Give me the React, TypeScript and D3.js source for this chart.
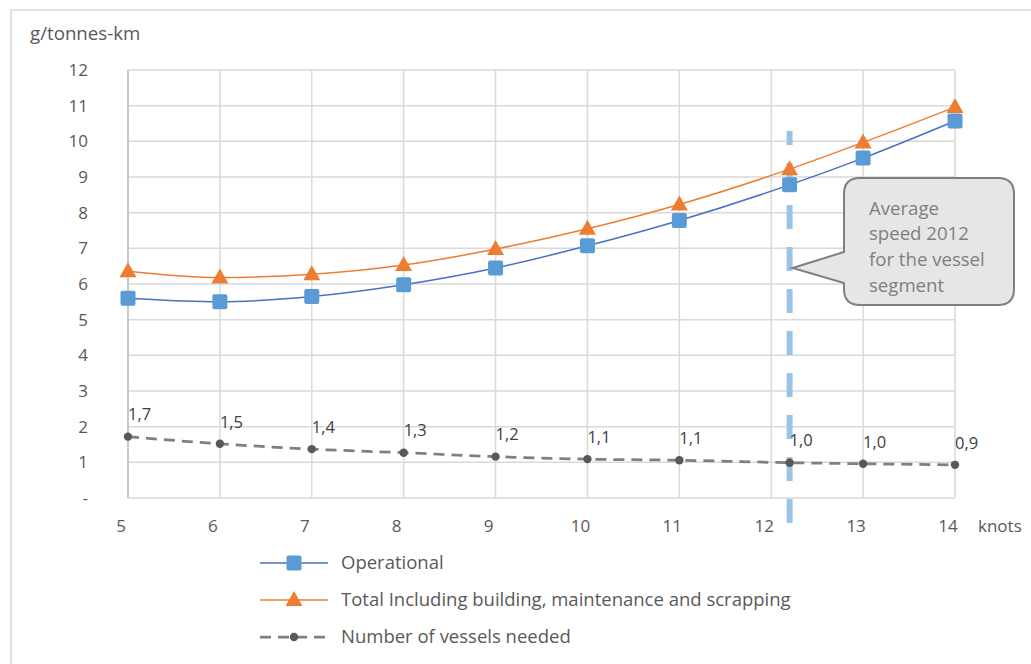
import React from "react";
import * as d3 from "d3";

// Speeds in knots; the 2012 average speed (12.2) is one of the sampled points
const speeds = [5, 6, 7, 8, 9, 10, 11, 12.2, 13, 14];
const operational = [5.6, 5.5, 5.65, 5.98, 6.45, 7.07, 7.78, 8.78, 9.53, 10.57];
const totalIncl = [6.36, 6.18, 6.27, 6.53, 6.98, 7.55, 8.23, 9.22, 9.97, 10.96];
const vesselsNeeded = [1.72, 1.52, 1.37, 1.27, 1.16, 1.09, 1.06, 0.99, 0.96, 0.93];

const xTicks = [5, 6, 7, 8, 9, 10, 11, 12, 13, 14];
const yTicks = [0, 1, 2, 3, 4, 5, 6, 7, 8, 9, 10, 11, 12];
const avgSpeed2012 = 12.2;
const calloutLines = ["Average", "speed 2012", "for the vessel", "segment"];

const legendItems = [
  { key: "op", label: "Operational" },
  { key: "tot", label: "Total Including building, maintenance and scrapping" },
  { key: "ves", label: "Number of vessels needed" },
];

const FONT = "'Open Sans', sans-serif";
const BLUE_LINE = "#4472c4";
const BLUE_MARK = "#5b9bd5";
const ORANGE = "#ed7d31";
const GREY_LINE = "#7f7f7f";
const GREY_DOT = "#595959";
const GRID = "#d9d9d9";
const TEXT = "#595959";
const VESSEL_DASH = "11,7";

export default function App() {
  const width = 1031;
  const height = 664;
  const x = d3.scaleLinear().domain([5, 14]).range([128, 955]);
  const y = d3.scaleLinear().domain([0, 12]).range([498, 70]);

  const lineOf = (vals: number[]) =>
    d3
      .line<number>()
      .x((_, i) => x(speeds[i]))
      .y((v) => y(v))
      .curve(d3.curveMonotoneX)(vals) as string;

  const fmt = (v: number) => d3.format(".1f")(v).replace(".", ",");

  const square = (cx: number, cy: number, k: string) => (
    <rect key={k} x={cx - 7.5} y={cy - 7.5} width={15} height={15} rx={2} fill={BLUE_MARK} />
  );
  const triangle = (cx: number, cy: number, k: string) => (
    <path
      key={k}
      d={`M${cx},${cy - 9} L${cx + 8.5},${cy + 6} L${cx - 8.5},${cy + 6} Z`}
      fill={ORANGE}
    />
  );

  // callout box with a pointer towards the average-speed line
  const bx0 = 844, bx1 = 1014, by0 = 178, by1 = 305, r = 16;
  const tipX = x(avgSpeed2012) + 3;
  const tipY = y(6.45);
  const calloutPath = [
    `M${bx0 + r},${by0}`,
    `L${bx1 - r},${by0}`,
    `Q${bx1},${by0} ${bx1},${by0 + r}`,
    `L${bx1},${by1 - r}`,
    `Q${bx1},${by1} ${bx1 - r},${by1}`,
    `L${bx0 + r},${by1}`,
    `Q${bx0},${by1} ${bx0},${by1 - r}`,
    `L${bx0},${tipY + 15}`,
    `L${tipX},${tipY}`,
    `L${bx0},${tipY - 16}`,
    `L${bx0},${by0 + r}`,
    `Q${bx0},${by0} ${bx0 + r},${by0}`,
    "Z",
  ].join(" ");

  return (
    <svg
      width={width}
      height={height}
      style={{ position: "absolute", left: 0, top: 0, background: "#fff" }}
      fontFamily={FONT}
    >
      <rect x={11} y={10} width={1040} height={670} fill="#fff" stroke={GRID} strokeWidth={1.5} />

      {/* grid */}
      {yTicks.map((t) => (
        <line key={"gy" + t} x1={x(5)} x2={x(14)} y1={y(t)} y2={y(t)} stroke={GRID} strokeWidth={1.5} />
      ))}
      {xTicks.map((t) => (
        <line key={"gx" + t} x1={x(t)} x2={x(t)} y1={y(0)} y2={y(12)} stroke={GRID} strokeWidth={1.5} />
      ))}
      <line x1={x(5)} x2={x(5)} y1={y(0)} y2={y(12)} stroke="#bfbfbf" strokeWidth={1.5} />

      {/* axis labels */}
      {yTicks.map((t) => (
        <text key={"ly" + t} x={88} y={y(t)} dy="0.35em" textAnchor="end" fontSize={17} fill={TEXT}>
          {t === 0 ? "-" : t}
        </text>
      ))}
      {xTicks.map((t) => (
        <text key={"lx" + t} x={x(t) - 7} y={526} dy="0.35em" textAnchor="middle" fontSize={17} fill={TEXT}>
          {t}
        </text>
      ))}
      <text x={978} y={526} dy="0.35em" fontSize={17} fill={TEXT}>knots</text>
      <text x={30} y={33} dy="0.35em" fontSize={18.7} fill={TEXT}>g/tonnes-km</text>

      {/* average speed marker line */}
      <line
        x1={x(avgSpeed2012)}
        x2={x(avgSpeed2012)}
        y1={131}
        y2={529}
        stroke="#9dc3e6"
        strokeWidth={6}
        strokeDasharray="24,18"
        strokeDashoffset={10}
      />

      {/* series */}
      <path d={lineOf(totalIncl)} fill="none" stroke={ORANGE} strokeWidth={1.5} />
      <path d={lineOf(operational)} fill="none" stroke={BLUE_LINE} strokeWidth={1.5} />
      <path
        d={lineOf(vesselsNeeded)}
        fill="none"
        stroke={GREY_LINE}
        strokeWidth={2.75}
        strokeDasharray={VESSEL_DASH}
      />
      {totalIncl.map((v, i) => triangle(x(speeds[i]), y(v), "t" + i))}
      {operational.map((v, i) => square(x(speeds[i]), y(v), "s" + i))}
      {vesselsNeeded.map((v, i) => (
        <circle key={"c" + i} cx={x(speeds[i])} cy={y(v)} r={4.2} fill={GREY_DOT} />
      ))}
      {vesselsNeeded.map((v, i) => (
        <text key={"vl" + i} x={x(speeds[i])} y={y(v) - 22} dy="0.35em" fontSize={16.5} fill="#404040">
          {fmt(v)}
        </text>
      ))}

      {/* callout */}
      <path d={calloutPath} fill="#e7e6e6" stroke="#7f7f7f" strokeWidth={2} />
      {calloutLines.map((s, i) => (
        <text key={"co" + i} x={869} y={208 + i * 25.7} dy="0.35em" fontSize={18.6} fill="#7f7f7f">
          {s}
        </text>
      ))}

      {/* legend */}
      {legendItems.map((item, i) => {
        const ly = 563 + i * 37;
        return (
          <g key={item.key}>
            {item.key === "op" && (
              <>
                <line x1={260} x2={328} y1={ly} y2={ly} stroke={BLUE_LINE} strokeWidth={1.5} />
                {square(294, ly, "ls")}
              </>
            )}
            {item.key === "tot" && (
              <>
                <line x1={260} x2={328} y1={ly} y2={ly} stroke={ORANGE} strokeWidth={1.5} />
                {triangle(294, ly, "lt")}
              </>
            )}
            {item.key === "ves" && (
              <>
                <line x1={260} x2={328} y1={ly} y2={ly} stroke={GREY_LINE} strokeWidth={2.75} strokeDasharray={VESSEL_DASH} />
                <circle cx={294} cy={ly} r={4.2} fill={GREY_DOT} />
              </>
            )}
            <text x={341} y={ly} dy="0.35em" fontSize={18.5} fill={TEXT}>
              {item.label}
            </text>
          </g>
        );
      })}
    </svg>
  );
}
